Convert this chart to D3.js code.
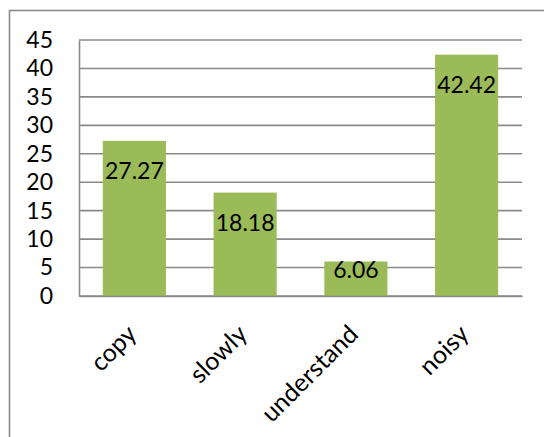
<!DOCTYPE html>
<html>
<head>
<meta charset="utf-8">
<script src="https://cdn.jsdelivr.net/npm/d3@7"></script>
<style>
  html, body { margin: 0; padding: 0; background: #fff; }
  svg { display: block; }
  text { font-family: Lato, "Open Sans", sans-serif; fill: #000; }
</style>
</head>
<body>
<svg id="chart" width="544" height="437"></svg>
<script>
const categories = ["copy", "slowly", "understand", "noisy"];
const values = [27.27, 18.18, 6.06, 42.42];
const yTicks = [0, 5, 10, 15, 20, 25, 30, 35, 40, 45];

const W = 544, H = 437;
const margin = { top: 40, right: 22, bottom: 141, left: 79 };
const svg = d3.select("#chart");

// outer frame
svg.append("rect")
  .attr("x", 9.5).attr("y", 10.5)
  .attr("width", 700).attr("height", 700)
  .attr("fill", "none").attr("stroke", "#8a8a8a").attr("stroke-width", 1.6);

const x = d3.scaleBand()
  .domain(categories)
  .range([margin.left, W - margin.right])
  .paddingInner(0.43)
  .paddingOuter(0.215);

const y = d3.scaleLinear()
  .domain([0, 45])
  .range([H - margin.bottom, margin.top]);

// gridlines
svg.append("g")
  .selectAll("line")
  .data(yTicks)
  .join("line")
  .attr("x1", margin.left).attr("x2", W - margin.right)
  .attr("y1", d => y(d)).attr("y2", d => y(d))
  .attr("stroke", "#8a8a8a").attr("stroke-width", 1.6);

// y axis
const yAxis = svg.append("g")
  .attr("transform", `translate(${margin.left},0)`)
  .call(d3.axisLeft(y).tickValues(yTicks).tickSize(0).tickPadding(26));
yAxis.select(".domain").attr("stroke", "#8a8a8a").attr("stroke-width", 1.6);
yAxis.selectAll("text").attr("font-size", 23).style("font-family", "Lato, sans-serif").attr("fill", "#000");

// bars
svg.append("g")
  .selectAll("rect")
  .data(values)
  .join("rect")
  .attr("x", (d, i) => x(categories[i]))
  .attr("width", x.bandwidth())
  .attr("y", d => y(d))
  .attr("height", d => y(0) - y(d))
  .attr("fill", "#9bbb59");

// x axis
const xAxis = svg.append("g")
  .attr("transform", `translate(0,${y(0)})`)
  .call(d3.axisBottom(x).tickSize(0).tickFormat(() => ""));
xAxis.select(".domain").attr("stroke", "#8a8a8a").attr("stroke-width", 1.6);

// x labels rotated
svg.append("g")
  .selectAll("text")
  .data(categories)
  .join("text")
  .attr("transform", d => `translate(${x(d) + x.bandwidth() / 2 - 9},${y(0) + 27}) rotate(-45)`)
  .attr("text-anchor", "end")
  .attr("dy", "0.72em")
  .attr("font-size", 25)
  .text(d => d);

// value labels
svg.append("g")
  .selectAll("text")
  .data(values)
  .join("text")
  .attr("x", (d, i) => x(categories[i]) + x.bandwidth() / 2)
  .attr("y", d => Math.min(y(d) + 38, y(0) - 17.7))
  .attr("text-anchor", "middle")
  .attr("font-size", 23)
  .text(d => d.toFixed(2));
</script>
</body>
</html>
